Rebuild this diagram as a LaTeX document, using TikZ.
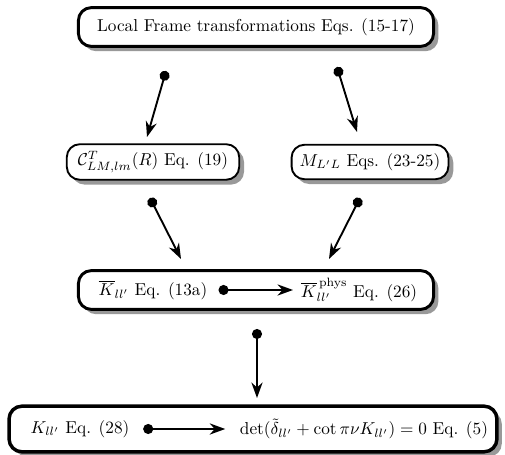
\documentclass[tikz,border=0pt]{standalone}
\usetikzlibrary{arrows.meta,shadows,backgrounds}
\tikzset{
  eqbox/.style={draw, rounded corners=7.5pt, fill=white, inner sep=4pt,
    drop shadow={shadow xshift=2.8pt, shadow yshift=-2.8pt, fill=black!40, opacity=1}},
  link/.style={line width=1.1pt, {Circle[length=5.8pt]}-{Stealth[length=9pt,width=6.5pt]}}
}
\begin{document}
\begin{tikzpicture}[x=0.58pt, y=-0.58pt, line join=round]
	\useasboundingbox (0,0) rectangle (505,455);
	% boxes
	\node[eqbox, line width=1.7pt, minimum width=206pt, minimum height=22.5pt] (frame) at (256,27) {Local Frame transformations Eqs. (15-17)};
	\node[eqbox, line width=1.1pt, minimum width=100pt, minimum height=20pt] (clm) at (153,162) {$\mathcal{C}^{T}_{LM,lm}(R)$ Eq. (19)};
	\node[eqbox, line width=1.1pt, minimum width=91pt, minimum height=20pt] (mll) at (370,162) {$M_{L'L}$ Eqs. (23-25)};
	\node (kbar) at (153,290) {$\overline{K}_{ll'}$ Eq. (13a)};
	\node (kphys) at (359,290) {$\overline{K}^{\,\mathrm{phys}}_{ll'}$ Eq. (26)};
	\node (kll) at (80,429) {$K_{ll'}$ Eq. (28)};
	\node (qdc) at (364,429) {$\det(\tilde{\delta}_{ll'}+\cot\pi\nu K_{ll'})=0$ Eq. (5)};
	\begin{scope}[on background layer]
		\node[eqbox, line width=1.7pt, minimum width=206pt, minimum height=22.5pt] (mid) at (256,290) {};
		\node[eqbox, line width=2pt, minimum width=283pt, minimum height=26.5pt] (bot) at (253,429) {};
	\end{scope}
	% free ends
	\coordinate (f1) at (166,71);  \coordinate (c1) at (147,137);
	\coordinate (f2) at (337,67);  \coordinate (m1) at (357,132);
	\coordinate (c2) at (150,198); \coordinate (k1) at (181,259);
	\coordinate (m2) at (360,198); \coordinate (k2) at (329,259);
	\coordinate (k3) at (257,329); \coordinate (b1) at (257,398);
	% connectors
	\draw[link] (f1) -- (c1);
	\draw[link] (f2) -- (m1);
	\draw[link] (c2) -- (k1);
	\draw[link] (m2) -- (k2);
	\draw[link] (k3) -- (b1);
	\draw[link, shorten <=3pt, shorten >=1pt] (kbar) -- (kphys);
	\draw[link, shorten <=4.5pt, shorten >=5pt] (kll) -- (qdc);
\end{tikzpicture}
\end{document}
